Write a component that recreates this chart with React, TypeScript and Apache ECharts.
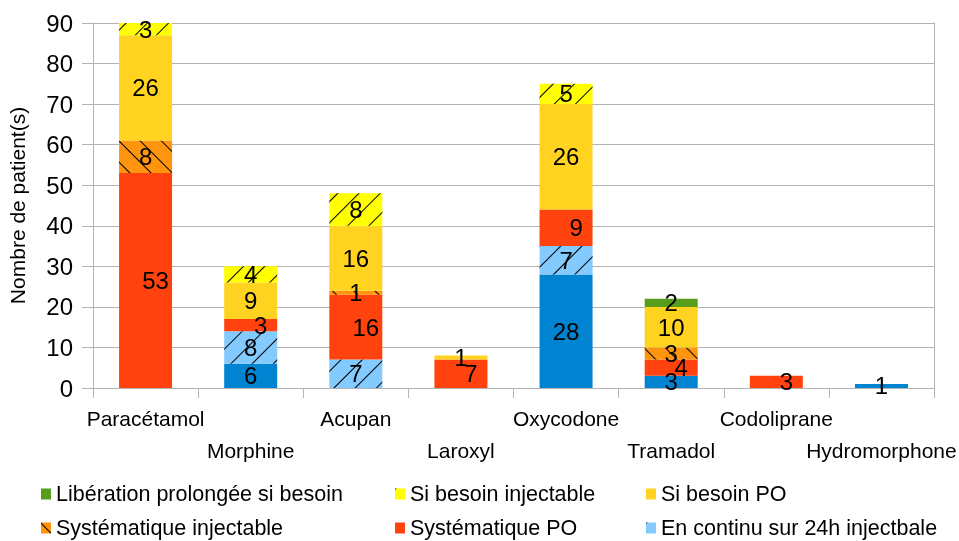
import React, { useEffect, useRef } from "react";
import * as echarts from "echarts";

const categories = ["Paracétamol", "Morphine", "Acupan", "Laroxyl", "Oxycodone", "Tramadol", "Codoliprane", "Hydromorphone"];

const continuPO = [null, 6, null, null, 28, 3, null, 1];
const continuInj = [null, 8, 7, null, 7, null, null, null];
const systPO = [53, 3, 16, 7, 9, 4, 3, null];
const systInj = [8, null, 1, null, null, 3, null, null];
const besoinPO = [26, 9, 16, 1, 26, 10, null, null];
const besoinInj = [3, 4, 8, null, 5, null, null, null];
const liberation = [null, null, null, null, null, 2, null, null];

const yTicks = { min: 0, max: 90, interval: 10 };

const FONT = "Liberation Sans, Arial, sans-serif";

const hatch = (rotation: number) => ({
  symbol: "rect",
  symbolSize: 1,
  dashArrayX: [1, 0],
  dashArrayY: [1, 14],
  rotation,
  color: "#000000",
});

export default function App() {
  const ref = useRef<HTMLDivElement>(null);
  useEffect(() => {
    if (!ref.current) return;
    const chart = echarts.init(ref.current, null, { renderer: "svg" });
    const label = (offset: number[] = [0, 0]) => ({
      show: true,
      position: "inside",
      fontSize: 24,
      color: "#000",
      fontFamily: FONT,
      offset,
    });
    const mk = (name: string, data: any[], color: string, decal?: any, off?: number[]) => ({
      name,
      type: "bar",
      stack: "all",
      data,
      barWidth: 53,
      itemStyle: decal ? { color, decal } : { color },
      label: label(off),
    });
    const legendItem = (name: string, left: number, top: number) => ({
      data: [name],
      left,
      top,
      padding: 0,
      icon: "rect",
      itemWidth: 10,
      itemHeight: 11,
      textStyle: { fontSize: 21.5, color: "#000", fontFamily: FONT },
    });
    chart.setOption({
      animation: false,
      textStyle: { fontFamily: FONT },
      grid: { left: 93, right: 25, top: 23, bottom: 153, containLabel: false, outerBoundsMode: "none" },
      legend: [
        legendItem("Libération prolongée si besoin", 41, 483),
        legendItem("Si besoin injectable", 395, 483),
        legendItem("Si besoin PO", 646, 483),
        legendItem("Systématique injectable", 41, 517),
        legendItem("Systématique PO", 395, 517),
        legendItem("En continu sur 24h injectbale", 646, 517),
      ],
      xAxis: {
        type: "category",
        data: categories,
        axisLine: { lineStyle: { color: "#b3b3b3" } },
        axisTick: { show: true, length: 10, lineStyle: { color: "#b3b3b3" } },
        axisLabel: {
          interval: 0,
          fontSize: 21,
          color: "#000",
          lineHeight: 32,
          margin: 14,
          formatter: (v: string, i: number) => (i % 2 ? "\n" + v : v),
        },
      },
      yAxis: [
        {
          type: "value",
          ...yTicks,
          name: "Nombre de patient(s)",
          nameLocation: "middle",
          nameGap: 65,
          nameTextStyle: { fontSize: 21, color: "#000" },
          axisLine: { show: true, lineStyle: { color: "#b3b3b3" } },
          axisTick: { show: true, length: 11, lineStyle: { color: "#b3b3b3" } },
          axisLabel: { fontSize: 24, color: "#000", margin: 20 },
          splitLine: { lineStyle: { color: "#b3b3b3" } },
        },
        {
          type: "value",
          ...yTicks,
          position: "right",
          axisLine: { show: true, lineStyle: { color: "#b3b3b3" } },
          axisTick: { show: false },
          axisLabel: { show: false },
          splitLine: { show: false },
        },
      ],
      series: [
        mk("En continu sur 24h PO", continuPO, "#0084d1"),
        mk("En continu sur 24h injectbale", continuInj, "#83caff", hatch(-Math.PI / 4)),
        mk("Systématique PO", systPO, "#ff420e", undefined, [10, 0]),
        mk("Systématique injectable", systInj, "#ff950e", hatch(Math.PI / 4)),
        mk("Si besoin PO", besoinPO, "#ffd320"),
        mk("Si besoin injectable", besoinInj, "#ffff00", hatch(-Math.PI / 4)),
        mk("Libération prolongée si besoin", liberation, "#579d1c"),
      ],
    });
    return () => chart.dispose();
  }, []);
  return <div ref={ref} style={{ position: "fixed", left: 0, top: 0, width: 959, height: 541 }} />;
}
